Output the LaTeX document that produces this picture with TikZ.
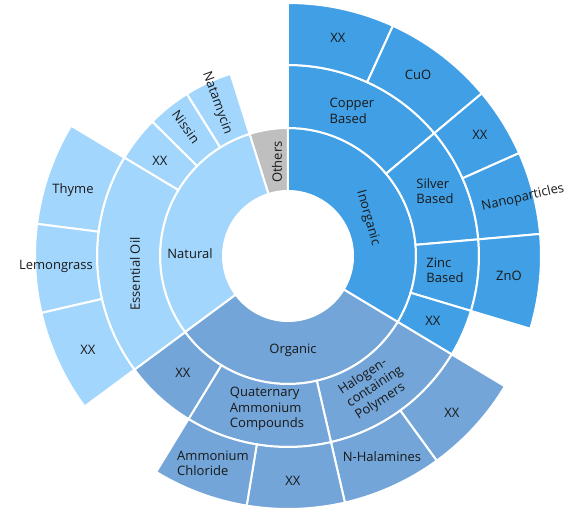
\documentclass[tikz,border=0pt]{standalone}
\usepackage{fontspec}
\setmainfont{Open Sans}
\definecolor{inorg}{RGB}{65,160,229}
\definecolor{org}{RGB}{115,165,216}
\definecolor{nat}{RGB}{163,214,252}
\definecolor{oth}{RGB}{191,191,191}
\definecolor{txt}{RGB}{25,25,25}
\newcommand{\sbw}[5]{\filldraw[fill=#5, draw=white, line width=2pt] (#3:#1pt) arc[start angle=#3, end angle=#4, radius=#1pt] -- (#4:#2pt) arc[start angle=#4, end angle=#3, radius=#2pt] -- cycle;}
\tikzset{lbl/.style={text=txt, font=\fontsize{13}{15.3}\selectfont, align=left, inner sep=0pt}}
\begin{document}
\begin{tikzpicture}[x=1pt,y=1pt]
\useasboundingbox (-288,-256) rectangle (294,256);
% ring 1
\sbw{65}{128}{-31}{90}{inorg}
\sbw{65}{128}{90}{107.5}{oth}
\sbw{65}{128}{107.5}{216.5}{nat}
\sbw{65}{128}{216.5}{329}{org}
% ring 2
\sbw{128}{191}{40}{90}{inorg}
\sbw{128}{191}{5}{40}{inorg}
\sbw{128}{191}{-16.7}{5}{inorg}
\sbw{128}{191}{-31}{-16.7}{inorg}
\sbw{128}{191}{-77}{-31}{org}
\sbw{128}{191}{-121.4}{-77}{org}
\sbw{128}{191}{-143.5}{-121.4}{org}
\sbw{128}{191}{107.5}{122}{nat}
\sbw{128}{191}{122}{135.3}{nat}
\sbw{128}{191}{135.3}{149}{nat}
\sbw{128}{191}{149}{216.5}{nat}
% ring 3
\sbw{191}{253}{65.5}{90}{inorg}
\sbw{191}{253}{40}{65.5}{inorg}
\sbw{191}{253}{24}{40}{inorg}
\sbw{191}{253}{5}{24}{inorg}
\sbw{191}{253}{-16.7}{5}{inorg}
\sbw{191}{253}{-54}{-31}{org}
\sbw{191}{253}{-77}{-54}{org}
\sbw{191}{253}{-99.4}{-77}{org}
\sbw{191}{253}{-121.4}{-99.4}{org}
\sbw{191}{253}{149}{172.7}{nat}
\sbw{191}{253}{172.7}{193}{nat}
\sbw{191}{253}{193}{216.5}{nat}
% labels
\node[lbl] (l1) at (50,218) {XX};
\node[lbl] (l2) at (130,181) {CuO};
\node[lbl] (l3) at (64,145) {Copper\\Based};
\node[lbl] (l4) at (192,121) {XX};
\node[lbl] (l5) at (147,65) {Silver\\Based};
\node[lbl, rotate=13] (l6) at (235,58) {Nanoparticles};
\node[lbl] (l7) at (157,-14) {Zinc\\Based};
\node[lbl] (l8) at (221,-20) {ZnO};
\node[lbl] (l9) at (145,-65) {XX};
\node[lbl, rotate=-74] (l10) at (80,38) {Inorganic};
\node[lbl, rotate=90] (l11) at (-11,94) {Others};
\node[lbl] (l12) at (5,-94) {Organic};
\node[lbl] (l13) at (164,-157) {XX};
\node[lbl] (l14) at (94,-201) {N-Halamines};
\node[lbl] (l15) at (5,-225) {XX};
\node[lbl] (l16) at (-75,-207) {Ammonium\\Chloride};
\node[lbl] (l17) at (-21,-153) {Quaternary\\Ammonium\\Compounds};
\node[lbl, rotate=33] (l18) at (87,-131) {Halogen-\\containing\\Polymers};
\node[lbl] (l19) at (-105,-117) {XX};
\node[lbl] (l20) at (-98,2) {Natural};
\node[lbl, rotate=90] (l21) at (-153,-18) {Essential Oil};
\node[lbl] (l22) at (-215,66) {Thyme};
\node[lbl] (l23) at (-232,-10) {Lemongrass};
\node[lbl] (l24) at (-200,-94) {XX};
\node[lbl] (l25) at (-128,95) {XX};
\node[lbl, rotate=-54] (l26) at (-102,129) {Nissin};
\node[lbl, rotate=-70] (l27) at (-71,153) {Natamycin};
\end{tikzpicture}
\end{document}
